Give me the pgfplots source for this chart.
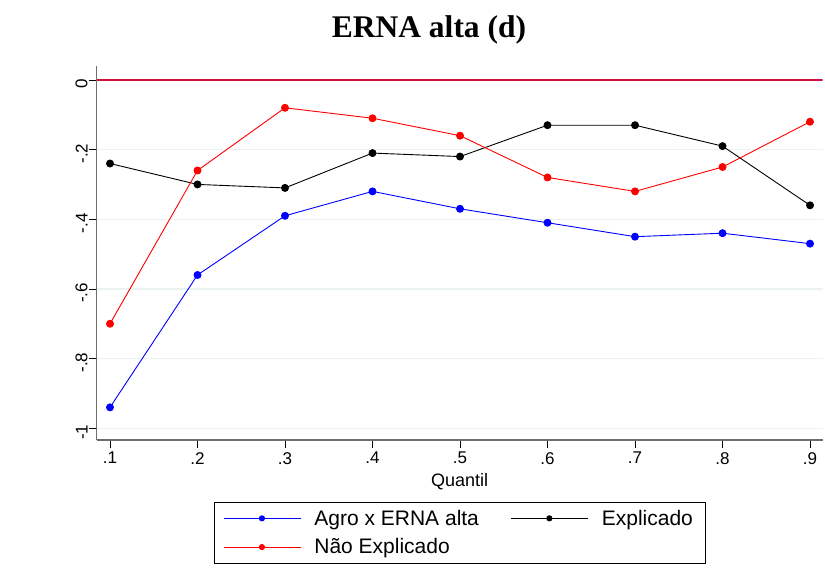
\documentclass[border=0pt]{standalone}
\usepackage{fontspec}
\setmainfont{Liberation Sans}
\newfontfamily\titlefont{Liberation Serif}
\usepackage{pgfplots}
\pgfplotsset{compat=1.18}
\definecolor{gridc}{HTML}{EAF2F3}
\definecolor{axisc}{HTML}{6E6E6E}
\definecolor{zeroc}{HTML}{D0103A}
\begin{document}
\begin{tikzpicture}[x=1pt,y=1pt]
\useasboundingbox (0,0) rectangle (825,581);
\node[font=\titlefont\bfseries\fontsize{31.5}{35}\selectfont, anchor=base] at (429,543) {ERNA alta (d)};
\begin{axis}[
  at={(96.7pt,141pt)}, anchor=south west,
  scale only axis, width=726pt, height=374pt,
  xmin=0.0848, xmax=0.9145, ymin=-1.0337, ymax=0.04,
  axis x line*=bottom, axis y line*=left,
  axis line style={axisc, line width=1.2pt},
  xtick={0.1,0.2,0.3,0.4,0.5,0.6,0.7,0.8,0.9},
  xticklabels={.1,.2,.3,.4,.5,.6,.7,.8,.9},
  ytick={-1,-0.8,-0.6,-0.4,-0.2,0},
  yticklabels={-1,-.8,-.6,-.4,-.2,0},
  tick style={black, line width=0.8pt},
  major tick length=8pt,
  tick align=outside,
  ymajorgrids, grid style={gridc, line width=1.4pt},
  ticklabel style={font=\fontsize{17}{20}\selectfont},
  yticklabel style={rotate=90, anchor=south, inner sep=1pt, xshift=-4pt},
  xticklabel style={anchor=north, inner sep=1pt, yshift=-3pt},
  /pgf/number format/assume math mode=true,
  xlabel={Quantil},
  xlabel style={font=\fontsize{18}{20}\selectfont, inner sep=0pt, at={(0.5,0)}, anchor=north, yshift=-33pt},
  every axis plot/.append style={line width=0.9pt, mark=*, mark size=3.5pt},
  legend columns=2,
  legend cell align=left,
  legend style={at={(0.5,-0.166)}, anchor=north, draw=black, line width=0.8pt,
    font=\fontsize{21}{24}\selectfont, inner xsep=9pt, inner ysep=5pt,
    nodes={inner xsep=3pt, inner ysep=2.5pt},
    row sep=7pt,
    /tikz/every odd column/.append style={column sep=10pt},
    /tikz/every even column/.append style={column sep=29pt}},
  legend image code/.code={\draw[mark repeat=2, mark phase=2, mark size=2.6pt, #1] plot coordinates {(0pt,0pt) (38pt,0pt) (77pt,0pt)};},
]
\addplot[zeroc, line width=1.2pt, mark=none, forget plot] coordinates {(0.0848,0) (0.9145,0)};
\addplot[blue, mark options={fill=blue}] coordinates {
(0.1,-0.94) (0.2,-0.56) (0.3,-0.39) (0.4,-0.32) (0.5,-0.37) (0.6,-0.41) (0.7,-0.45) (0.8,-0.44) (0.9,-0.47)};
\addlegendentry{Agro x ERNA alta}
\addplot[black, mark options={fill=black}] coordinates {
(0.1,-0.24) (0.2,-0.30) (0.3,-0.31) (0.4,-0.21) (0.5,-0.22) (0.6,-0.13) (0.7,-0.13) (0.8,-0.19) (0.9,-0.36)};
\addlegendentry{Explicado}
\addplot[red, mark options={fill=red}] coordinates {
(0.1,-0.70) (0.2,-0.26) (0.3,-0.08) (0.4,-0.11) (0.5,-0.16) (0.6,-0.28) (0.7,-0.32) (0.8,-0.25) (0.9,-0.12)};
\addlegendentry{Não Explicado}
\end{axis}
\end{tikzpicture}
\end{document}
